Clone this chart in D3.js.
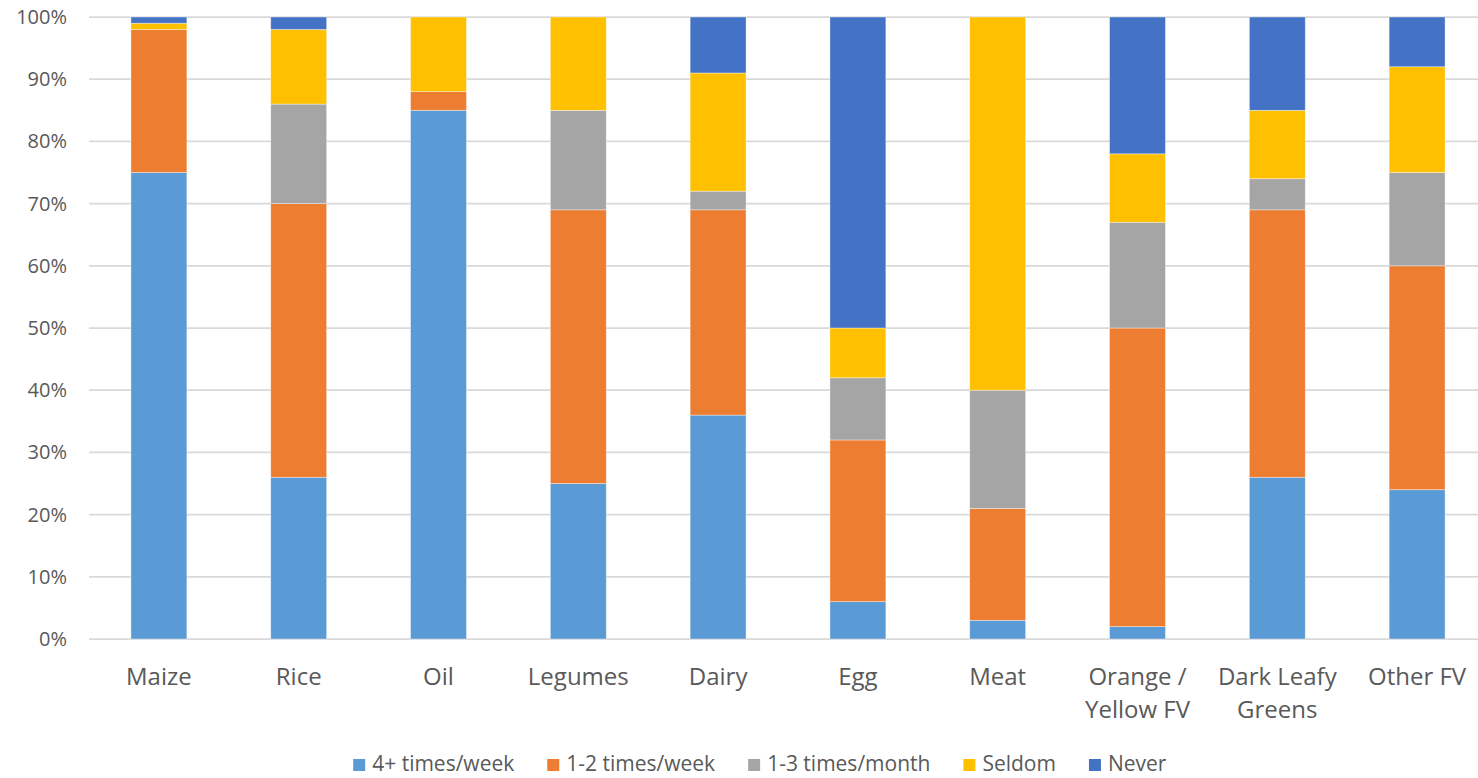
<!DOCTYPE html>
<html lang="en">
    <head>
        <meta charset="utf-8">
        <title>Food frequency</title>

        <script src="https://d3js.org/d3.v7.min.js"></script>

        <style type="text/css">
            body {
                margin: 0;
                background: #fff;
            }
            text {
                font-family: "Open Sans", sans-serif;
                fill: #595959;
            }
        </style>
    </head>
    <body>
        <script type="text/javascript">

            //Data (percent of respondents)
            const categories = ["Maize", "Rice", "Oil", "Legumes", "Dairy", "Egg", "Meat",
                                "Orange / Yellow FV", "Dark Leafy Greens", "Other FV"];
            const categoryLines = [["Maize"], ["Rice"], ["Oil"], ["Legumes"], ["Dairy"], ["Egg"], ["Meat"],
                                   ["Orange /", "Yellow FV"], ["Dark Leafy", "Greens"], ["Other FV"]];
            const seriesNames = ["4+ times/week", "1-2 times/week", "1-3 times/month", "Seldom", "Never"];

            const fourPlusWeek  = [75, 26, 85, 25, 36,  6,  3,  2, 26, 24];
            const oneTwoWeek    = [23, 44,  3, 44, 33, 26, 18, 48, 43, 36];
            const oneThreeMonth = [ 0, 16,  0, 16,  3, 10, 19, 17,  5, 15];
            const seldom        = [ 1, 12, 12, 15, 19,  8, 60, 11, 11, 17];
            const never         = [ 1,  2,  0,  0,  9, 50,  0, 22, 15,  8];

            const yTicks = [0, 10, 20, 30, 40, 50, 60, 70, 80, 90, 100];

            //declare consts
            const w = 1478;
            const h = 778;
            const colors = ["#5B9BD5", "#ED7D31", "#A5A5A5", "#FFC000", "#4472C4"];

            //table for the stack generator
            const allSeries = [fourPlusWeek, oneTwoWeek, oneThreeMonth, seldom, never];
            const table = categories.map((c, i) => {
                const row = {category: c};
                seriesNames.forEach((s, j) => row[s] = allSeries[j][i]);
                return row;
            });

            const stacked = d3.stack().keys(seriesNames)(table);

            //scales
            const x = d3.scaleBand()
                        .domain(categories)
                        .range([89, 1487])
                        .paddingInner(0.6)
                        .paddingOuter(0.3);

            const y = d3.scaleLinear()
                        .domain([0, 100])
                        .range([639, 17]);

            const color = d3.scaleOrdinal(seriesNames, colors);

            //SVG
            const svg = d3.select("body")
                    .append("svg")
                    .attr("width", w)
                    .attr("height", h);

            //gridlines
            svg.append("g")
                .selectAll("line")
                .data(yTicks)
                .join("line")
                .attr("x1", 89)
                .attr("x2", w)
                .attr("y1", d => y(d))
                .attr("y2", d => y(d))
                .attr("stroke", "#D9D9D9")
                .attr("stroke-width", 1.75);

            //y tick labels
            svg.append("g")
                .selectAll("text")
                .data(yTicks)
                .join("text")
                .attr("x", 67)
                .attr("y", d => y(d))
                .attr("dy", "0.35em")
                .attr("text-anchor", "end")
                .style("font-size", "20px")
                .text(d => d + "%");

            //bars
            const groups = svg.append("g")
                .selectAll("g")
                .data(stacked)
                .join("g")
                .attr("fill", d => color(d.key));

            groups.selectAll("rect")
                .data(d => d)
                .join("rect")
                .attr("x", d => x(d.data.category))
                .attr("width", x.bandwidth())
                .attr("y", d => y(d[1]))
                .attr("height", d => y(d[0]) - y(d[1]))
                .attr("stroke", "#fff")
                .attr("stroke-opacity", 0.5)
                .attr("stroke-width", 0.75);

            //category labels
            const catLabels = svg.append("g")
                .selectAll("text")
                .data(categories)
                .join("text")
                .attr("x", d => x(d) + x.bandwidth() / 2)
                .attr("y", 685)
                .attr("text-anchor", "middle")
                .style("font-size", "24px");

            catLabels.selectAll("tspan")
                .data((d, i) => categoryLines[i])
                .join("tspan")
                .attr("x", function() { return this.parentNode.getAttribute("x"); })
                .attr("dy", (d, i) => i === 0 ? 0 : 33)
                .text(d => d);

            //legend
            const legend = svg.append("g");
            const items = legend.selectAll("g")
                .data(seriesNames)
                .join("g");

            items.append("rect")
                .attr("width", 12)
                .attr("height", 12)
                .attr("y", 759)
                .attr("fill", d => color(d));

            items.append("text")
                .attr("x", 19)
                .attr("y", 771)
                .style("font-size", "21px")
                .text(d => d);

            //place legend items side by side, centred
            let offset = 0;
            const positions = [];
            items.each(function() {
                positions.push(offset);
                offset += this.getBBox().width + 33;
            });
            const total = offset - 33;
            const start = 760 - total / 2;
            items.attr("transform", (d, i) => "translate(" + (start + positions[i]) + ",0)");

        </script>
    </body>
</html>
